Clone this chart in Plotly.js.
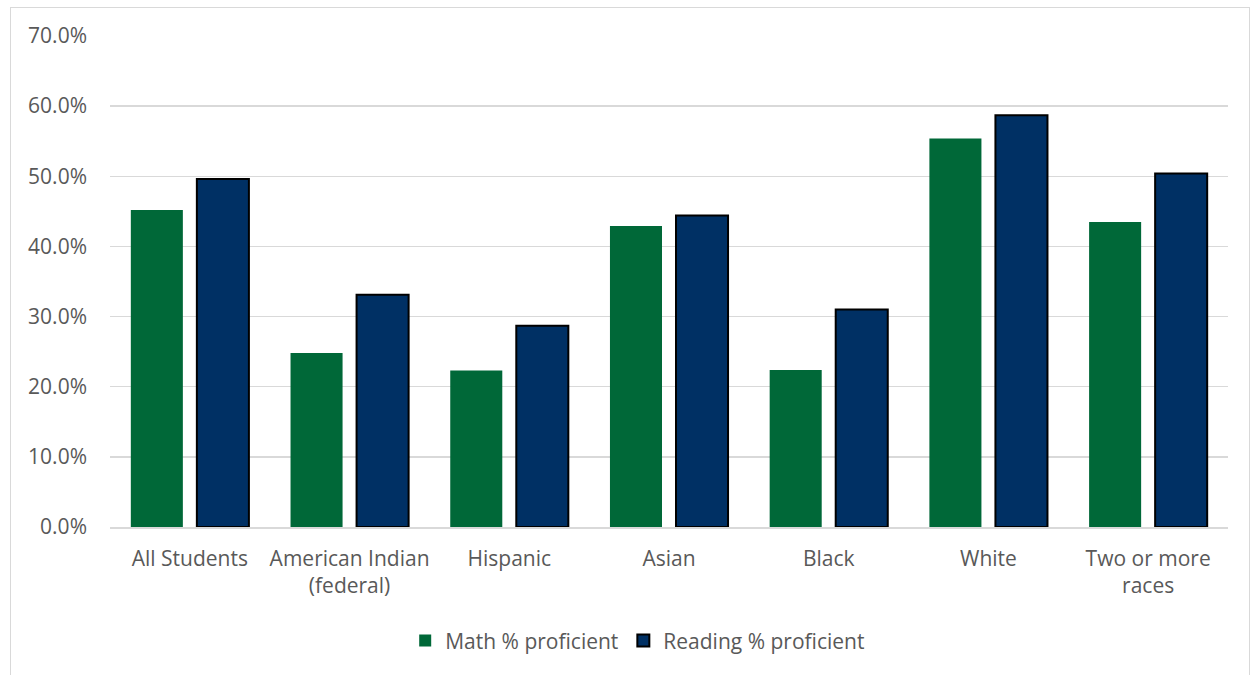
<!DOCTYPE html>
<html><head><meta charset="utf-8">
<script src="https://cdn.plot.ly/plotly-3.0.1.min.js"></script>
<style>
html,body{margin:0;padding:0;background:#fff;}
#wrap{position:relative;width:1252px;height:675px;overflow:hidden;}
#frame{position:absolute;left:10px;top:7px;width:1240px;height:680px;border:1px solid #d9d9d9;box-sizing:border-box;}
#chart{position:absolute;left:0;top:0;width:1252px;height:675px;}
</style></head>
<body><div id="wrap"><div id="frame"></div><div id="chart"></div></div>
<script>
const categories = ["All Students", "American Indian<br>(federal)", "Hispanic", "Asian", "Black", "White", "Two or more<br>races"];
const mathProficient = [0.452, 0.248, 0.223, 0.429, 0.224, 0.554, 0.435];
const readingProficient = [0.496, 0.331, 0.287, 0.444, 0.310, 0.587, 0.504];
const seriesNames = ["Math % proficient", "Reading % proficient"];
const yTicks = [0, 0.1, 0.2, 0.3, 0.4, 0.5, 0.6, 0.7];

const font = {family: "'Open Sans', 'Noto Sans', sans-serif", size: 21, color: "#595959"};

const traces = [
  {type: "bar", name: seriesNames[0], x: categories, y: mathProficient,
   marker: {color: "#006838", line: {width: 0}}, hoverinfo: "skip"},
  {type: "bar", name: seriesNames[1], x: categories, y: readingProficient,
   marker: {color: "#003064", line: {color: "#000000", width: 2}}, hoverinfo: "skip"}
];

const layout = {
  width: 1252, height: 675,
  paper_bgcolor: "rgba(0,0,0,0)", plot_bgcolor: "rgba(0,0,0,0)",
  margin: {l: 110, r: 24, t: 36, b: 148},
  barmode: "group", bargap: 0.173, bargroupgap: 0.212,
  font: font,
  showlegend: true,
  legend: {orientation: "h", x: 0.472, xanchor: "center", y: -0.232, yanchor: "middle",
           font: font, itemsizing: "constant", traceorder: "normal", itemwidth: 30},
  xaxis: {type: "category", tickfont: font, showgrid: false, showline: true,
          linecolor: "#d9d9d9", linewidth: 1.5, ticks: "", ticklabelstandoff: 12, fixedrange: true},
  yaxis: {range: [0, 0.7], tickvals: yTicks, tickformat: ".1%", tickfont: font,
          gridcolor: "#d9d9d9", gridwidth: 1.5, zeroline: false, showline: false,
          ticks: "", ticklabelstandoff: 22, fixedrange: true}
};

Plotly.newPlot("chart", traces, layout, {displayModeBar: false, staticPlot: true});
</script></body></html>
